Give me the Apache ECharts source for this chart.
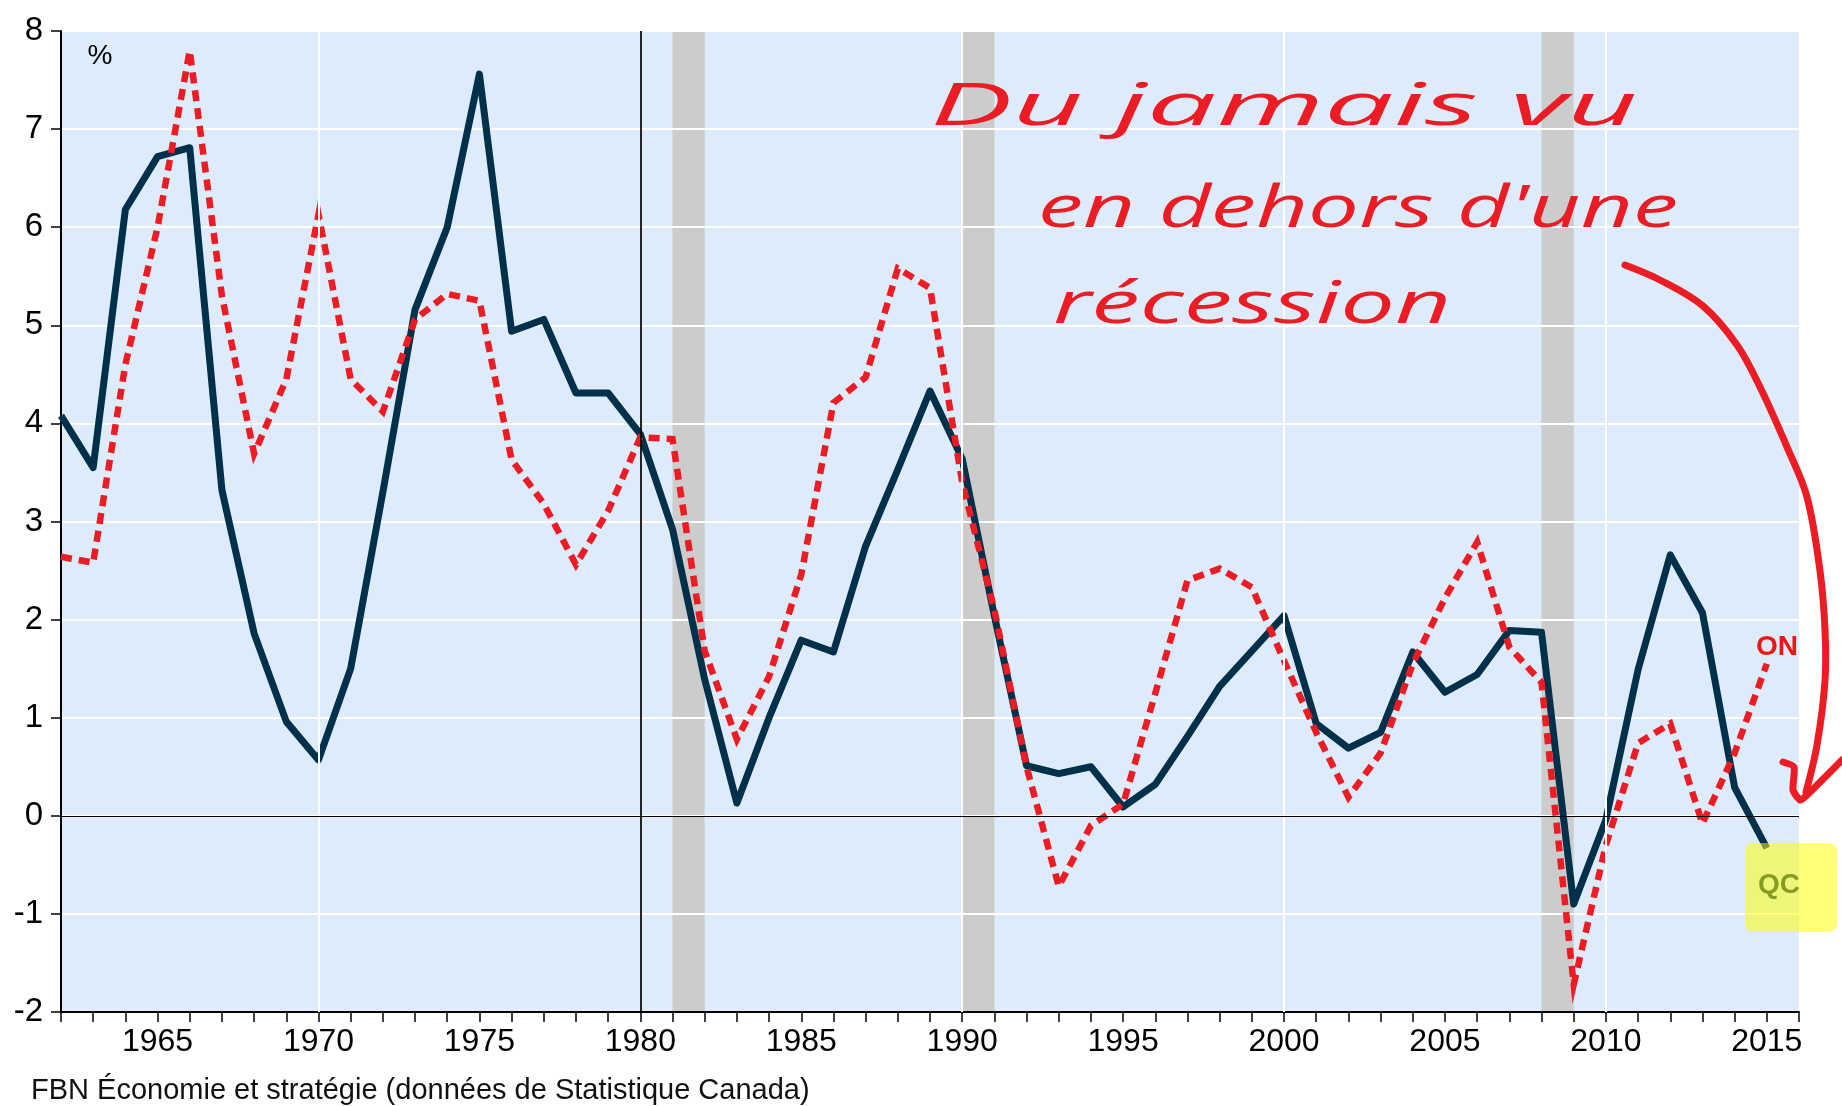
<!DOCTYPE html>
<html>
<head>
<meta charset="utf-8">
<script src="https://cdn.jsdelivr.net/npm/echarts/dist/echarts.min.js"></script>
<style>
html,body{margin:0;padding:0;background:#ffffff;}
#chart{width:1842px;height:1106px;}
</style>
</head>
<body>
<div id="chart"></div>
<script>
// ---------- data ----------
const years = [1962,1963,1964,1965,1966,1967,1968,1969,1970,1971,1972,1973,1974,1975,1976,1977,1978,1979,
  1980,1981,1982,1983,1984,1985,1986,1987,1988,1989,1990,1991,1992,1993,1994,1995,1996,1997,1998,1999,
  2000,2001,2002,2003,2004,2005,2006,2007,2008,2009,2010,2011,2012,2013,2014,2015];
const qcValues = [4.08,3.55,6.18,6.72,6.81,3.32,1.86,0.96,0.57,1.50,3.30,5.16,6.00,7.56,4.94,5.06,4.31,4.31,
  3.89,2.92,1.39,0.13,1.00,1.79,1.67,2.75,3.53,4.33,3.64,2.04,0.51,0.43,0.50,0.09,0.32,0.81,1.32,1.68,
  2.04,0.94,0.69,0.85,1.67,1.26,1.44,1.89,1.87,-0.90,-0.04,1.49,2.66,2.07,0.29,-0.33];
const onValues = [2.64,2.58,4.60,6.00,7.80,5.30,3.69,4.45,6.13,4.45,4.12,5.06,5.32,5.25,3.63,3.18,2.56,3.11,
  3.86,3.84,1.68,0.78,1.42,2.46,4.21,4.47,5.58,5.38,3.40,2.10,0.50,-0.72,-0.10,0.12,1.25,2.40,2.52,2.33,
  1.58,0.85,0.19,0.64,1.55,2.22,2.79,1.72,1.36,-1.72,-0.30,0.74,0.94,-0.08,0.64,1.55];
const seriesNames = ['QC','ON'];
const recessions = [[1981,1982],[1990,1991],[2008,2009]];
const gridYears = [1970,1990,2000,2010];
const markedYear = 1980;
const xMin = 1962, xMax = 2016, labelStep = 5;
const yMin = -2, yMax = 8, yStep = 1;
const unitLabel = '%';
const sourceText = 'FBN Économie et stratégie (données de Statistique Canada)';
const noteLines = ['Du jamais vu', "en dehors d'une", 'récession'];

// ---------- chart ----------
const chart = echarts.init(document.getElementById('chart'), null, {renderer:'canvas'});
const FONT = '"Liberation Sans", Arial, sans-serif';
const RED = '#EB1C24';
const NAVY = '#00304A';

const noteFont = 'italic 500 58px "Open Sans"';
const ctx = document.createElement('canvas').getContext('2d');
ctx.font = noteFont;
const noteBoxes = [
  {x: 930, y: 108, w: 708},
  {x: 1038, y: 210, w: 640},
  {x: 1053, y: 306, w: 398}
];
const noteGraphics = noteLines.map((t, i) => {
  const m = ctx.measureText(t).width || 1;
  return {
    type: 'text', x: noteBoxes[i].x, y: noteBoxes[i].y, scaleX: noteBoxes[i].w / m, z: 50,
    style: {text: t, font: noteFont, fill: RED, align: 'left', verticalAlign: 'middle'}
  };
});

const option = {
  animation: false,
  backgroundColor: '#ffffff',
  grid: {left: 61, right: 43, top: 31, bottom: 94, show: true, backgroundColor: '#DDEBFB', borderWidth: 0},
  xAxis: {
    type: 'value', min: xMin, max: xMax, interval: 1, z: 2,
    axisLine: {show: true, onZero: false, lineStyle: {color: '#000', width: 2}},
    axisTick: {show: true, length: 10, lineStyle: {color: '#000', width: 1.5}},
    axisLabel: {
      show: true, margin: 14, fontSize: 32, color: '#000', fontFamily: FONT,
      formatter: v => (v % labelStep === 0 && v < xMax) ? String(v) : ''
    },
    splitLine: {show: false}
  },
  yAxis: {
    type: 'value', min: yMin, max: yMax, interval: yStep, z: 2,
    axisLine: {show: true, lineStyle: {color: '#000', width: 2}},
    axisTick: {show: true, length: 10, lineStyle: {color: '#000', width: 1.5}},
    axisLabel: {show: true, margin: 18, fontSize: 33, color: '#000', fontFamily: FONT, padding: [0, 0, 12, 0]},
    splitLine: {show: true, lineStyle: {color: '#ffffff', width: 2}}
  },
  series: [
    {
      type: 'line', name: 'bands', data: [], z: 1, silent: true,
      markArea: {
        silent: true,
        itemStyle: {color: '#CCCCCC', opacity: 1},
        data: recessions.map(r => [{xAxis: r[0]}, {xAxis: r[1]}])
      }
    },
    {
      type: 'line', name: 'refs', data: [], z: 2.5, silent: true,
      markLine: {
        silent: true, symbol: 'none', label: {show: false},
        data: gridYears.map(y => ({xAxis: y, lineStyle: {color: '#ffffff', width: 2, type: 'solid'}}))
          .concat([
            {xAxis: markedYear, lineStyle: {color: '#000', width: 1.7, type: 'solid'}},
            {yAxis: 0, lineStyle: {color: '#000', width: 1.2, type: 'solid'}}
          ])
      }
    },
    {
      type: 'line', name: seriesNames[0], z: 3, symbol: 'none', silent: true,
      data: years.map((y, i) => [y, qcValues[i]]),
      lineStyle: {color: NAVY, width: 7, join: 'round', cap: 'butt'}
    },
    {
      type: 'line', name: seriesNames[1], z: 4, symbol: 'none', silent: true,
      data: years.map((y, i) => [y, onValues[i]]),
      lineStyle: {color: RED, width: 6.5, type: [11, 7], cap: 'butt', join: 'miter'}
    }
  ],
  graphic: [
    {type: 'text', x: 100, y: 56, z: 50, style: {text: unitLabel, font: '28px ' + FONT, fill: '#000', align: 'center', verticalAlign: 'middle'}},
    {type: 'text', x: 31, y: 1091, z: 50, style: {text: sourceText, font: '29px ' + FONT, fill: '#111', align: 'left', verticalAlign: 'middle'}},
    {type: 'text', x: 1777, y: 647, z: 50, style: {text: seriesNames[1], font: 'bold 28px ' + FONT, fill: '#F01414', align: 'center', verticalAlign: 'middle'}},
    {type: 'text', x: 1779, y: 885, z: 50, style: {text: seriesNames[0], font: 'bold 28px ' + FONT, fill: NAVY, align: 'center', verticalAlign: 'middle'}},
    {type: 'rect', z: 60, shape: {x: 1745, y: 843, width: 92, height: 89, r: 8}, style: {fill: '#FFFF00', opacity: 0.52}},
    {type: 'polyline', z: 55, shape: {smooth: 0.35, points: [[1625,265],[1660,280],[1703,306],[1737,345],[1760,387],[1787,447],[1807,497],[1820,571],[1825,630],[1825,681],[1817,745],[1806,792]]},
      style: {stroke: RED, lineWidth: 7, fill: null, lineCap: 'round', lineJoin: 'round'}},
    {type: 'polyline', z: 55, shape: {smooth: 0.2, points: [[1783,762],[1794,767],[1793,790],[1800,800],[1806,796],[1842,760]]},
      style: {stroke: RED, lineWidth: 7, fill: null, lineCap: 'round', lineJoin: 'round'}}
  ].concat(noteGraphics)
};
chart.setOption(option);
</script>
</body>
</html>
